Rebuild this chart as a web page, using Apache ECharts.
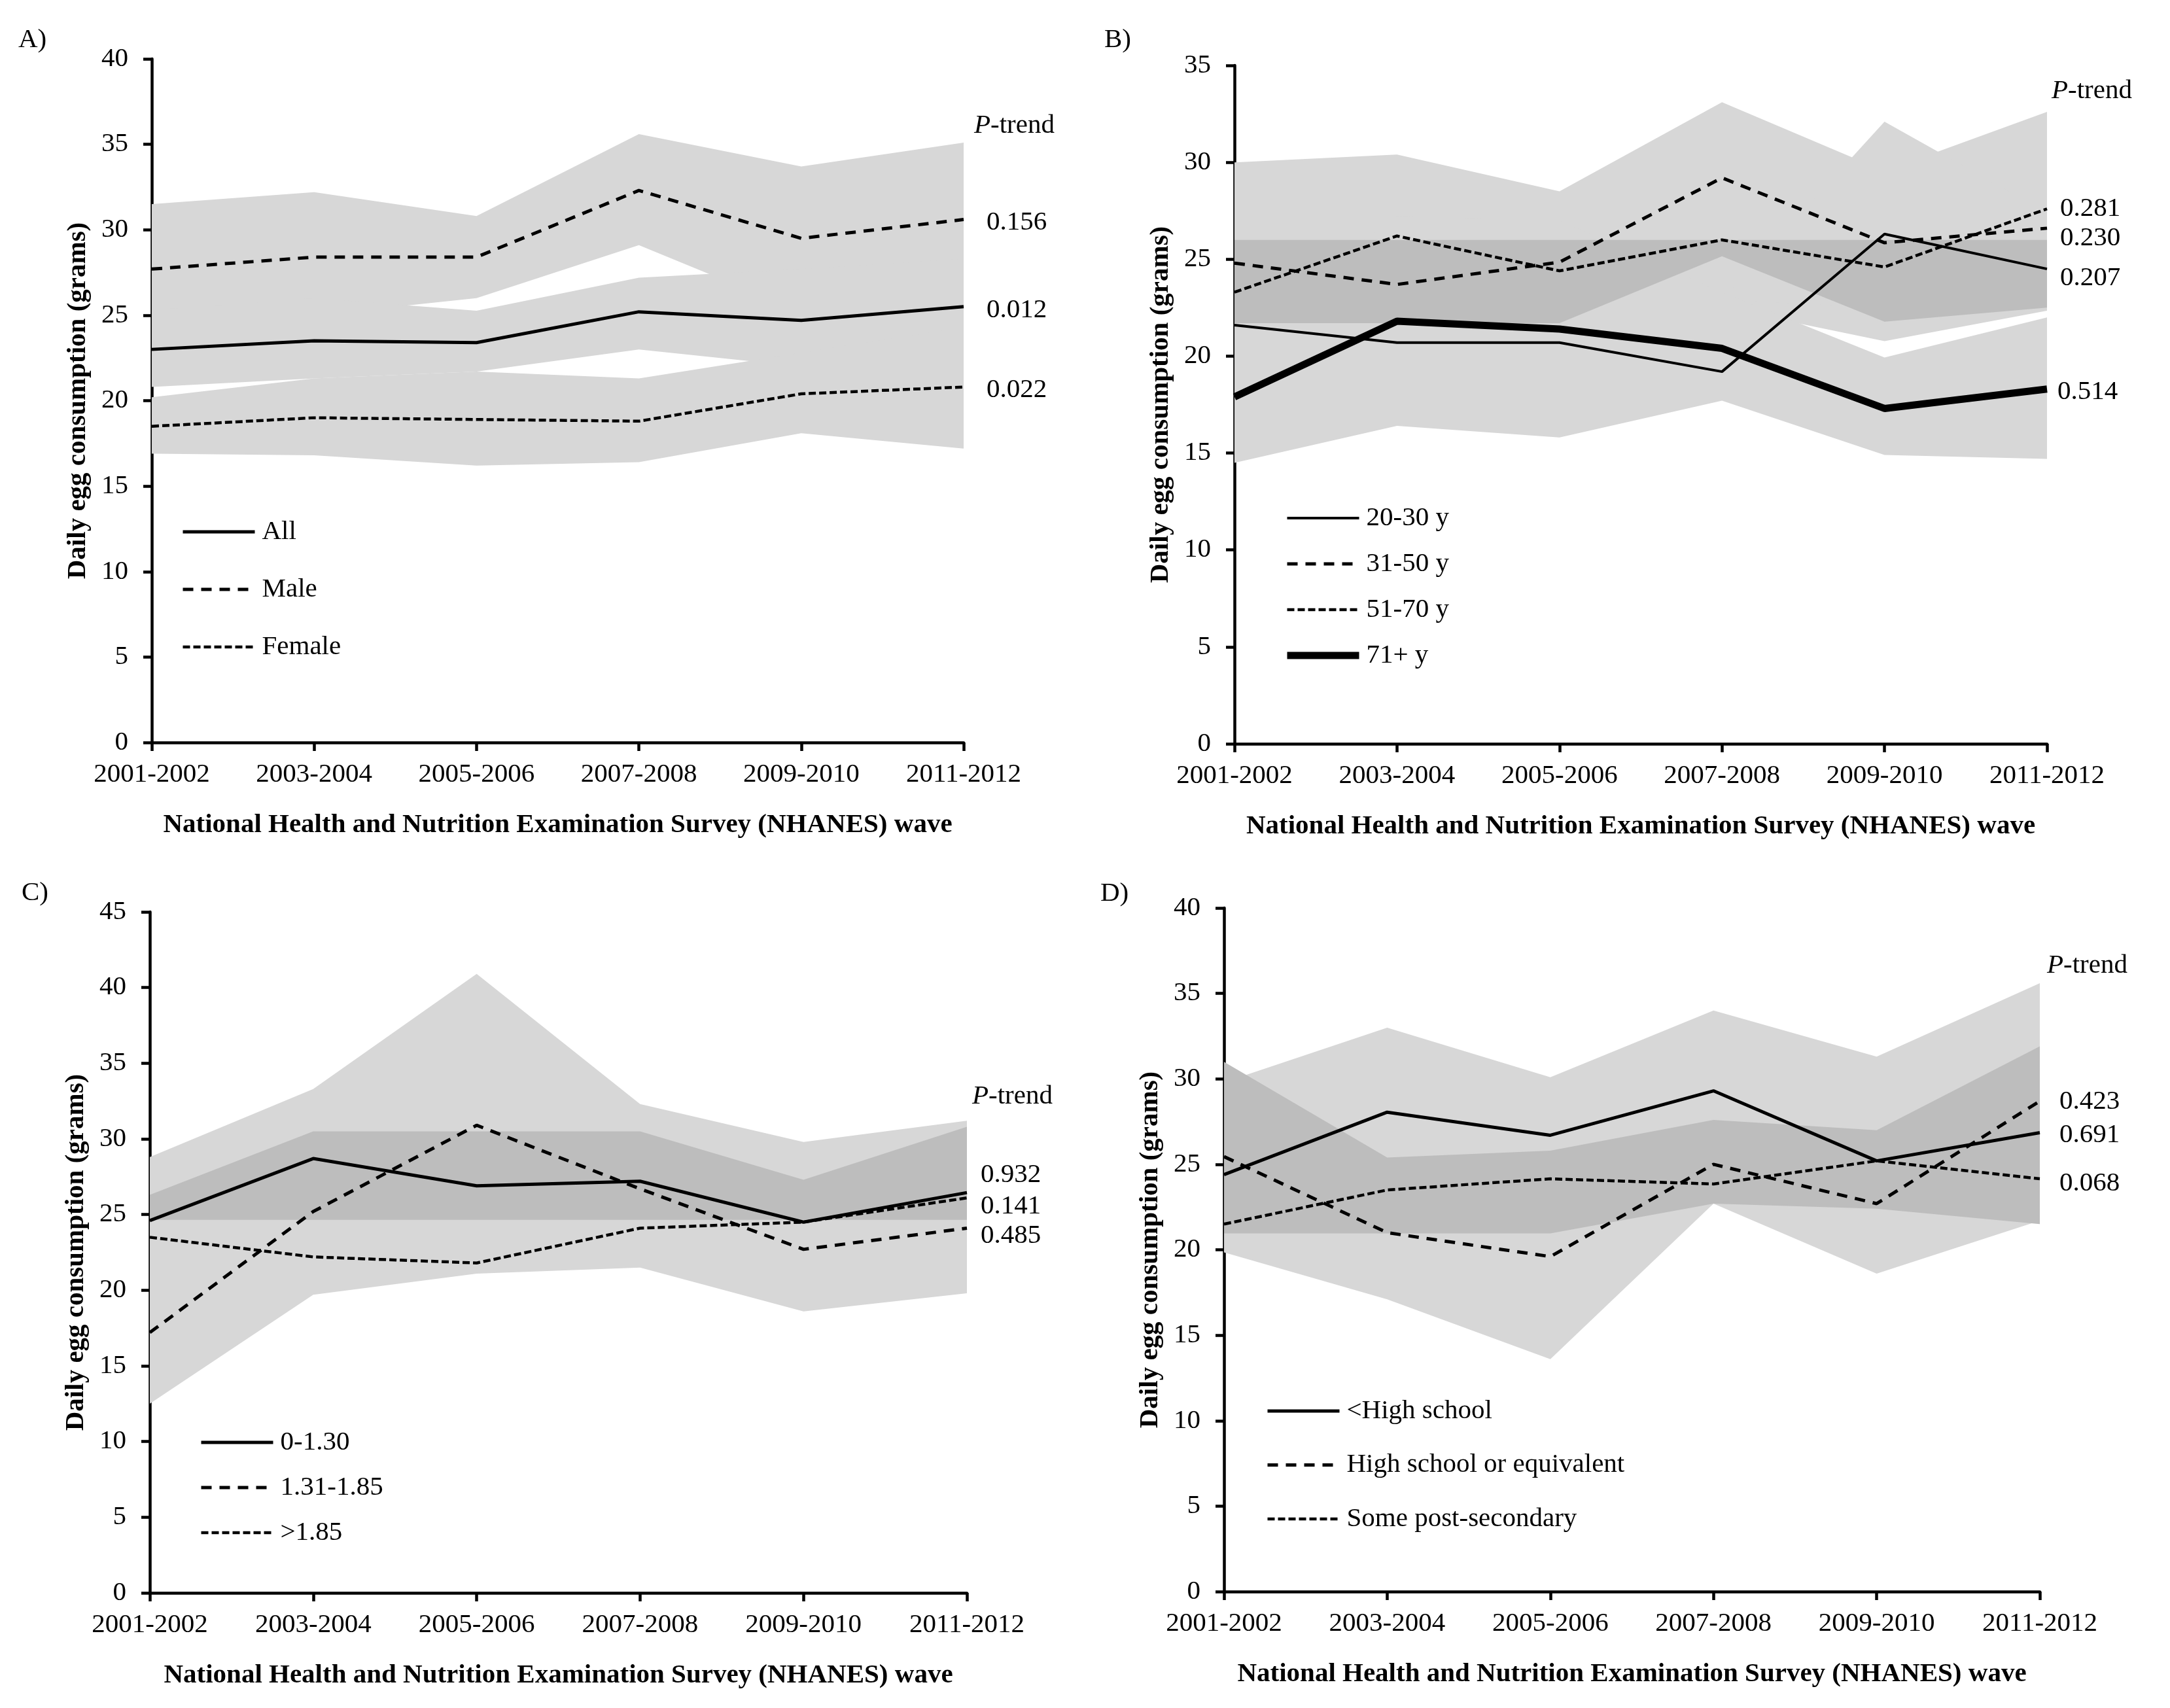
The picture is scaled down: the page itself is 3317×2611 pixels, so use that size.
<!DOCTYPE html>
<html>
<head>
<meta charset="utf-8">
<script src="https://cdn.jsdelivr.net/npm/echarts@6/dist/echarts.min.js"></script>
<style>
html, body { margin: 0; padding: 0; background: #fff; }
#main { width: 3317px; height: 2611px; }
</style>
</head>
<body>
<div id="main"></div>
<script>
// NHANES waves (x axis)
var waves = ['2001-2002', '2003-2004', '2005-2006', '2007-2008', '2009-2010', '2011-2012'];

// A) by sex
var aAll = [23.0, 23.5, 23.4, 25.2, 24.7, 25.5];
var aMale = [27.7, 28.4, 28.4, 32.3, 29.5, 30.6];
var aFemale = [18.5, 19.0, 18.9, 18.8, 20.4, 20.8];
var aMaleLo = [24.3, 25.0, 26.0, 29.1, 25.2, 26.2];
var aMaleHi = [31.5, 32.2, 30.8, 35.6, 33.7, 35.1];
var aAllLo = [20.8, 21.3, 21.7, 23.0, 22.0, 22.6];
var aAllHi = [25.3, 26.0, 25.26, 27.2, 27.7, 28.3];
var aFemLo = [16.9, 16.8, 16.2, 16.4, 18.1, 17.2];
var aFemHi = [20.2, 21.3, 21.7, 21.3, 22.8, 24.3];

// B) by age group
var b2030 = [21.6, 20.7, 20.7, 19.2, 26.3, 24.5];
var b3150 = [24.8, 23.7, 24.85, 29.2, 25.85, 26.6];
var b5170 = [23.3, 26.2, 24.4, 26.0, 24.6, 27.6];
var b71 = [17.9, 21.8, 21.4, 20.4, 17.3, 18.3];
var bUpLo = [21.1, 21.1, 21.1, 22.5, 20.77, 22.34];
var bUpHi = [30.0, 30.4, 28.5, 33.1, 29.55, 32.6];
var bSpikeLo = [22.0, 22.0, 22.0, 22.9, 22.5, 23.0];
var bSpikeHi = [26.0, 26.0, 26.0, 22.9, 32.1, 27.4];
var b71Lo = [14.5, 16.4, 15.8, 17.7, 14.9, 14.7];
var b71Hi = [21.3, 27.2, 27.0, 23.3, 19.93, 22.0];
var bDarkLo = [21.7, 21.7, 21.7, 25.15, 21.78, 22.5];
var bDarkHi = [26.0, 26.0, 26.0, 26.0, 26.0, 26.0];

// C) by poverty income ratio
var c130 = [24.6, 28.7, 26.9, 27.2, 24.5, 26.45];
var c185 = [17.2, 25.2, 30.9, 26.7, 22.7, 24.1];
var cHigh = [23.5, 22.2, 21.8, 24.1, 24.5, 26.1];
var cLightLo = [12.5, 19.7, 21.1, 21.5, 18.6, 19.8];
var cLightHi = [28.8, 33.3, 40.9, 32.3, 29.8, 31.2];
var cDarkLo = [24.65, 24.65, 24.65, 24.65, 24.65, 24.65];
var cDarkHi = [26.3, 30.5, 30.5, 30.5, 27.3, 30.8];

// D) by education
var dLess = [24.4, 28.05, 26.7, 29.3, 25.2, 26.85];
var dHigh = [25.45, 21.0, 19.6, 25.0, 22.7, 28.7];
var dPost = [21.5, 23.5, 24.15, 23.85, 25.2, 24.15];
var dLightLo = [19.85, 17.1, 13.6, 22.7, 18.6, 21.7];
var dLightHi = [29.8, 33.0, 30.1, 34.0, 31.3, 35.6];
var dDarkLo = [20.96, 20.96, 20.96, 22.7, 22.4, 21.5];
var dDarkHi = [31.0, 25.4, 25.8, 27.6, 27.0, 31.9];

// P-trend values
var pA = ['0.012', '0.156', '0.022'];
var pB = ['0.207', '0.230', '0.281', '0.514'];
var pC = ['0.932', '0.485', '0.141'];
var pD = ['0.691', '0.423', '0.068'];

var yMax = [40, 35, 45, 40];

var font = 'Liberation Serif';
var light = '#d7d7d7';
var dark = '#bdbdbd';
var dashed = [16, 12];
var dotted = [11, 5];

function band(gi, id, lo, hi, color) {
  var diff = hi.map(function (v, i) { return +(v - lo[i]).toFixed(3); });
  return [
    {
      type: 'line', xAxisIndex: gi, yAxisIndex: gi, stack: id, data: lo,
      symbol: 'none', silent: true, lineStyle: { opacity: 0, width: 0 }
    },
    {
      type: 'line', xAxisIndex: gi, yAxisIndex: gi, stack: id, data: diff,
      symbol: 'none', silent: true, lineStyle: { opacity: 0, width: 0 },
      areaStyle: { color: color, opacity: 1 }
    }
  ];
}

function line(gi, name, vals, type, width, p, dy, dist) {
  return {
    type: 'line', name: name, xAxisIndex: gi, yAxisIndex: gi, data: vals,
    symbol: 'none', z: 5,
    lineStyle: { color: '#000', width: width, type: type, cap: 'butt' },
    itemStyle: { color: '#000' },
    endLabel: {
      show: true, formatter: p, distance: dist, offset: [0, dy],
      fontSize: 41, fontFamily: font, color: '#000'
    }
  };
}

var grids = [
  { left: 232, top: 90, width: 1241, height: 1045 },
  { left: 1887, top: 100, width: 1242, height: 1037 },
  { left: 229, top: 1394, width: 1249, height: 1041 },
  { left: 1871, top: 1388, width: 1247, height: 1045 }
];

var xAxes = grids.map(function (g, i) {
  return {
    type: 'category', gridIndex: i, data: waves, boundaryGap: false,
    axisLine: { lineStyle: { color: '#000', width: 4.5 } },
    axisTick: { show: true, length: 13, interval: 0, lineStyle: { color: '#000', width: 4.5 } },
    axisLabel: { interval: 0, margin: 29, fontSize: 41, fontFamily: font, color: '#000' },
    splitLine: { show: false },
    name: 'National Health and Nutrition Examination Survey (NHANES) wave',
    nameLocation: 'middle', nameGap: 106,
    nameTextStyle: { fontSize: 41, fontWeight: 'bold', fontFamily: font, color: '#000' }
  };
});

var yAxes = grids.map(function (g, i) {
  return {
    type: 'value', gridIndex: i, min: 0, max: yMax[i], interval: 5,
    axisLine: { show: true, lineStyle: { color: '#000', width: 4.5 } },
    axisTick: { show: true, length: 13, lineStyle: { color: '#000', width: 4.5 } },
    axisLabel: { margin: 36, fontSize: 41, fontFamily: font, color: '#000' },
    splitLine: { show: false },
    name: 'Daily egg consumption (grams)',
    nameLocation: 'middle', nameRotate: 90, nameGap: 92,
    nameTextStyle: { fontSize: 41, fontWeight: 'bold', fontFamily: font, color: '#000' }
  };
});

var series = [].concat(
  band(0, 'aM', aMaleLo, aMaleHi, light),
  band(0, 'aA', aAllLo, aAllHi, light),
  band(0, 'aF', aFemLo, aFemHi, light),
  [
    line(0, 'All', aAll, 'solid', 5, pA[0], 5, 35),
    line(0, 'Male', aMale, dashed, 5, pA[1], 5, 35),
    line(0, 'Female', aFemale, dotted, 4.5, pA[2], 5, 35)
  ],
  band(1, 'bU', bUpLo, bUpHi, light),
  band(1, 'bS', bSpikeLo, bSpikeHi, light),
  band(1, 'bL', b71Lo, b71Hi, light),
  band(1, 'bD', bDarkLo, bDarkHi, dark),
  [
    line(1, '20-30 y', b2030, 'solid', 4, pB[0], 14, 20),
    line(1, '31-50 y', b3150, dashed, 5, pB[1], 15, 20),
    line(1, '51-70 y', b5170, dotted, 4.5, pB[2], 0, 20),
    line(1, '71+ y', b71, 'solid', 11, pB[3], 4, 16)
  ],
  band(2, 'cL', cLightLo, cLightHi, light),
  band(2, 'cD', cDarkLo, cDarkHi, dark),
  [
    line(2, '0-1.30', c130, 'solid', 5, pC[0], -27, 21),
    line(2, '1.31-1.85', c185, dashed, 5, pC[1], 12, 21),
    line(2, '>1.85', cHigh, dotted, 4.5, pC[2], 13, 21)
  ],
  band(3, 'dL', dLightLo, dLightHi, light),
  band(3, 'dD', dDarkLo, dDarkHi, dark),
  [
    line(3, '<High school', dLess, 'solid', 5, pD[0], 4, 30),
    line(3, 'High school or equivalent', dHigh, dashed, 5, pD[1], 1, 30),
    line(3, 'Some post-secondary', dPost, dotted, 4.5, pD[2], 7, 30)
  ]
);

function legend(names, left, top, gap) {
  return {
    data: names, orient: 'vertical', left: left, top: top, padding: 0,
    itemWidth: 110, itemHeight: 44, itemGap: gap, selectedMode: false,
    itemStyle: { opacity: 0 },
    lineStyle: { width: 'inherit' },
    textStyle: { fontSize: 41, lineHeight: 44, fontFamily: font, color: '#000', padding: [0, 0, 0, 6] }
  };
}

function tag(text, left, top) {
  return {
    text: text, left: left, top: top, padding: 0,
    textStyle: {
      fontSize: 41, fontWeight: 'normal', fontFamily: font, color: '#000',
      rich: { i: { fontSize: 41, fontStyle: 'italic', fontFamily: font, color: '#000' } }
    }
  };
}

var option = {
  backgroundColor: '#fff',
  animation: false,
  title: [
    tag('A)', 28, 41), tag('B)', 1688, 41), tag('C)', 33, 1345), tag('D)', 1682, 1346),
    tag('{i|P}-trend', 1489, 172), tag('{i|P}-trend', 3136, 119),
    tag('{i|P}-trend', 1486, 1656), tag('{i|P}-trend', 3129, 1456)
  ],
  grid: grids.map(function (g) {
    return { left: g.left, top: g.top, width: g.width, height: g.height, outerBoundsMode: 'none' };
  }),
  xAxis: xAxes,
  yAxis: yAxes,
  legend: [
    legend(['All', 'Male', 'Female'], 277, 791, 44),
    legend(['20-30 y', '31-50 y', '51-70 y', '71+ y'], 1962, 770, 26),
    legend(['0-1.30', '1.31-1.85', '>1.85'], 305, 2183, 25),
    legend(['<High school', 'High school or equivalent', 'Some post-secondary'], 1935, 2135, 38.5)
  ],
  series: series
};

var chart = echarts.init(document.getElementById('main'));
chart.setOption(option);
</script>
</body>
</html>
